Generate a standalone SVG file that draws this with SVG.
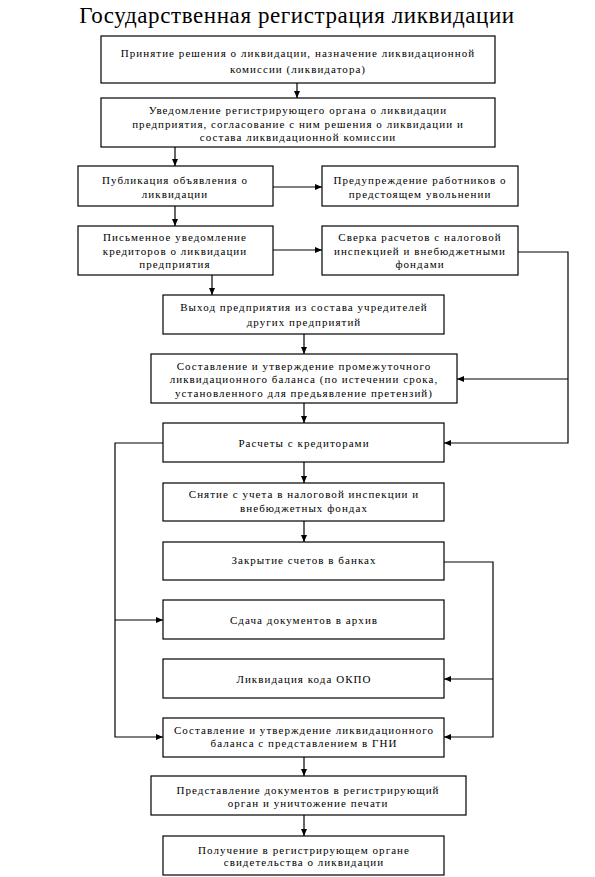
<svg xmlns="http://www.w3.org/2000/svg" width="595" height="877" viewBox="0 0 595 877">
<defs>
<style>
.box{fill:#fff;stroke:#000;stroke-width:1.2}
.t{font-size:11px;letter-spacing:1.05px;fill:#000;text-anchor:middle}
.title{font-size:23px;letter-spacing:0.6px;fill:#000;text-anchor:middle}
.c{fill:none;stroke:#000;stroke-width:1.2}
</style>
<marker id="ah" markerUnits="userSpaceOnUse" markerWidth="8" markerHeight="8" refX="7" refY="3" orient="auto">
<path d="M0,0 L7,3 L0,6 z" fill="#000"/>
</marker>
</defs>
<rect width="595" height="877" fill="#fff"/>
<g font-family="Liberation Serif, Times New Roman, serif">
<text class="title" x="297" y="23">Государственная регистрация ликвидации</text>

<g id="connectors">
<path class="c" d="M297,83 V98" marker-end="url(#ah)"/>
<path class="c" d="M175,147 V166" marker-end="url(#ah)"/>
<path class="c" d="M273,187 H322" marker-end="url(#ah)"/>
<path class="c" d="M175,206 V226" marker-end="url(#ah)"/>
<path class="c" d="M273,250 H322" marker-end="url(#ah)"/>
<path class="c" d="M518,252 H568 V443 H444" marker-end="url(#ah)"/>
<path class="c" d="M568,379 H457" marker-end="url(#ah)"/>
<path class="c" d="M212,275 V295" marker-end="url(#ah)"/>
<path class="c" d="M304,334 V354" marker-end="url(#ah)"/>
<path class="c" d="M304,403 V423" marker-end="url(#ah)"/>
<path class="c" d="M163,443 H115 V737 H163" marker-end="url(#ah)"/>
<path class="c" d="M115,620 H163" marker-end="url(#ah)"/>
<path class="c" d="M304,462 V483" marker-end="url(#ah)"/>
<path class="c" d="M304,521 V542" marker-end="url(#ah)"/>
<path class="c" d="M444,562 H493 V737 H444" marker-end="url(#ah)"/>
<path class="c" d="M493,679 H444" marker-end="url(#ah)"/>
<path class="c" d="M304,757 V776" marker-end="url(#ah)"/>
<path class="c" d="M304,815 V836" marker-end="url(#ah)"/>
</g>

<g id="n1"><rect class="box" x="101" y="36" width="394" height="47"/>
<text class="t" x="298" y="57">Принятие решения о ликвидации, назначение ликвидационной</text>
<text class="t" x="298" y="73">комиссии (ликвидатора)</text></g>

<g id="n2"><rect class="box" x="101" y="98" width="394" height="49"/>
<text class="t" x="298" y="114">Уведомление регистрирующего органа о ликвидации</text>
<text class="t" x="298" y="128">предприятия, согласование с ним решения о ликвидации и</text>
<text class="t" x="298" y="141">состава ликвидационной комиссии</text></g>

<g id="n3"><rect class="box" x="78" y="166" width="195" height="40"/>
<text class="t" x="175" y="184">Публикация объявления о</text>
<text class="t" x="175" y="198">ликвидации</text></g>

<g id="n4"><rect class="box" x="322" y="166" width="196" height="40"/>
<text class="t" x="420" y="184">Предупреждение работников о</text>
<text class="t" x="420" y="198">предстоящем увольнении</text></g>

<g id="n5"><rect class="box" x="78" y="226" width="195" height="49"/>
<text class="t" x="175" y="241">Письменное уведомление</text>
<text class="t" x="175" y="255">кредиторов о ликвидации</text>
<text class="t" x="175" y="268">предприятия</text></g>

<g id="n6"><rect class="box" x="322" y="226" width="196" height="49"/>
<text class="t" x="420" y="241">Сверка расчетов с налоговой</text>
<text class="t" x="420" y="255">инспекцией и внебюджетными</text>
<text class="t" x="420" y="268">фондами</text></g>

<g id="n7"><rect class="box" x="163" y="295" width="281" height="39"/>
<text class="t" x="304" y="311">Выход предприятия из состава учредителей</text>
<text class="t" x="304" y="326">других предприятий</text></g>

<g id="n8"><rect class="box" x="151" y="354" width="306" height="49"/>
<text class="t" x="304" y="370">Составление и утверждение промежуточного</text>
<text class="t" x="304" y="383">ликвидационного баланса (по истечении срока,</text>
<text class="t" x="304" y="397">установленного для предьявление претензий)</text></g>

<g id="n9"><rect class="box" x="163" y="423" width="281" height="39"/>
<text class="t" x="304" y="447">Расчеты с кредиторами</text></g>

<g id="n10"><rect class="box" x="163" y="483" width="281" height="38"/>
<text class="t" x="304" y="498">Снятие с учета в налоговой инспекции и</text>
<text class="t" x="304" y="512">внебюджетных фондах</text></g>

<g id="n11"><rect class="box" x="163" y="542" width="281" height="38"/>
<text class="t" x="304" y="564">Закрытие счетов в банках</text></g>

<g id="n12"><rect class="box" x="163" y="600" width="281" height="39"/>
<text class="t" x="304" y="624">Сдача документов в архив</text></g>

<g id="n13"><rect class="box" x="163" y="659" width="281" height="39"/>
<text class="t" x="304" y="683">Ликвидация кода ОКПО</text></g>

<g id="n14"><rect class="box" x="163" y="718" width="281" height="39"/>
<text class="t" x="304" y="734">Составление и утверждение ликвидационного</text>
<text class="t" x="304" y="747">баланса с представлением в ГНИ</text></g>

<g id="n15"><rect class="box" x="151" y="776" width="315" height="39"/>
<text class="t" x="308" y="794">Представление документов в регистрирующий</text>
<text class="t" x="308" y="807">орган и уничтожение печати</text></g>

<g id="n16"><rect class="box" x="163" y="836" width="281" height="39"/>
<text class="t" x="304" y="854">Получение в регистрирующем органе</text>
<text class="t" x="304" y="866">свидетельства о ликвидации</text></g>
</g>
</svg>
